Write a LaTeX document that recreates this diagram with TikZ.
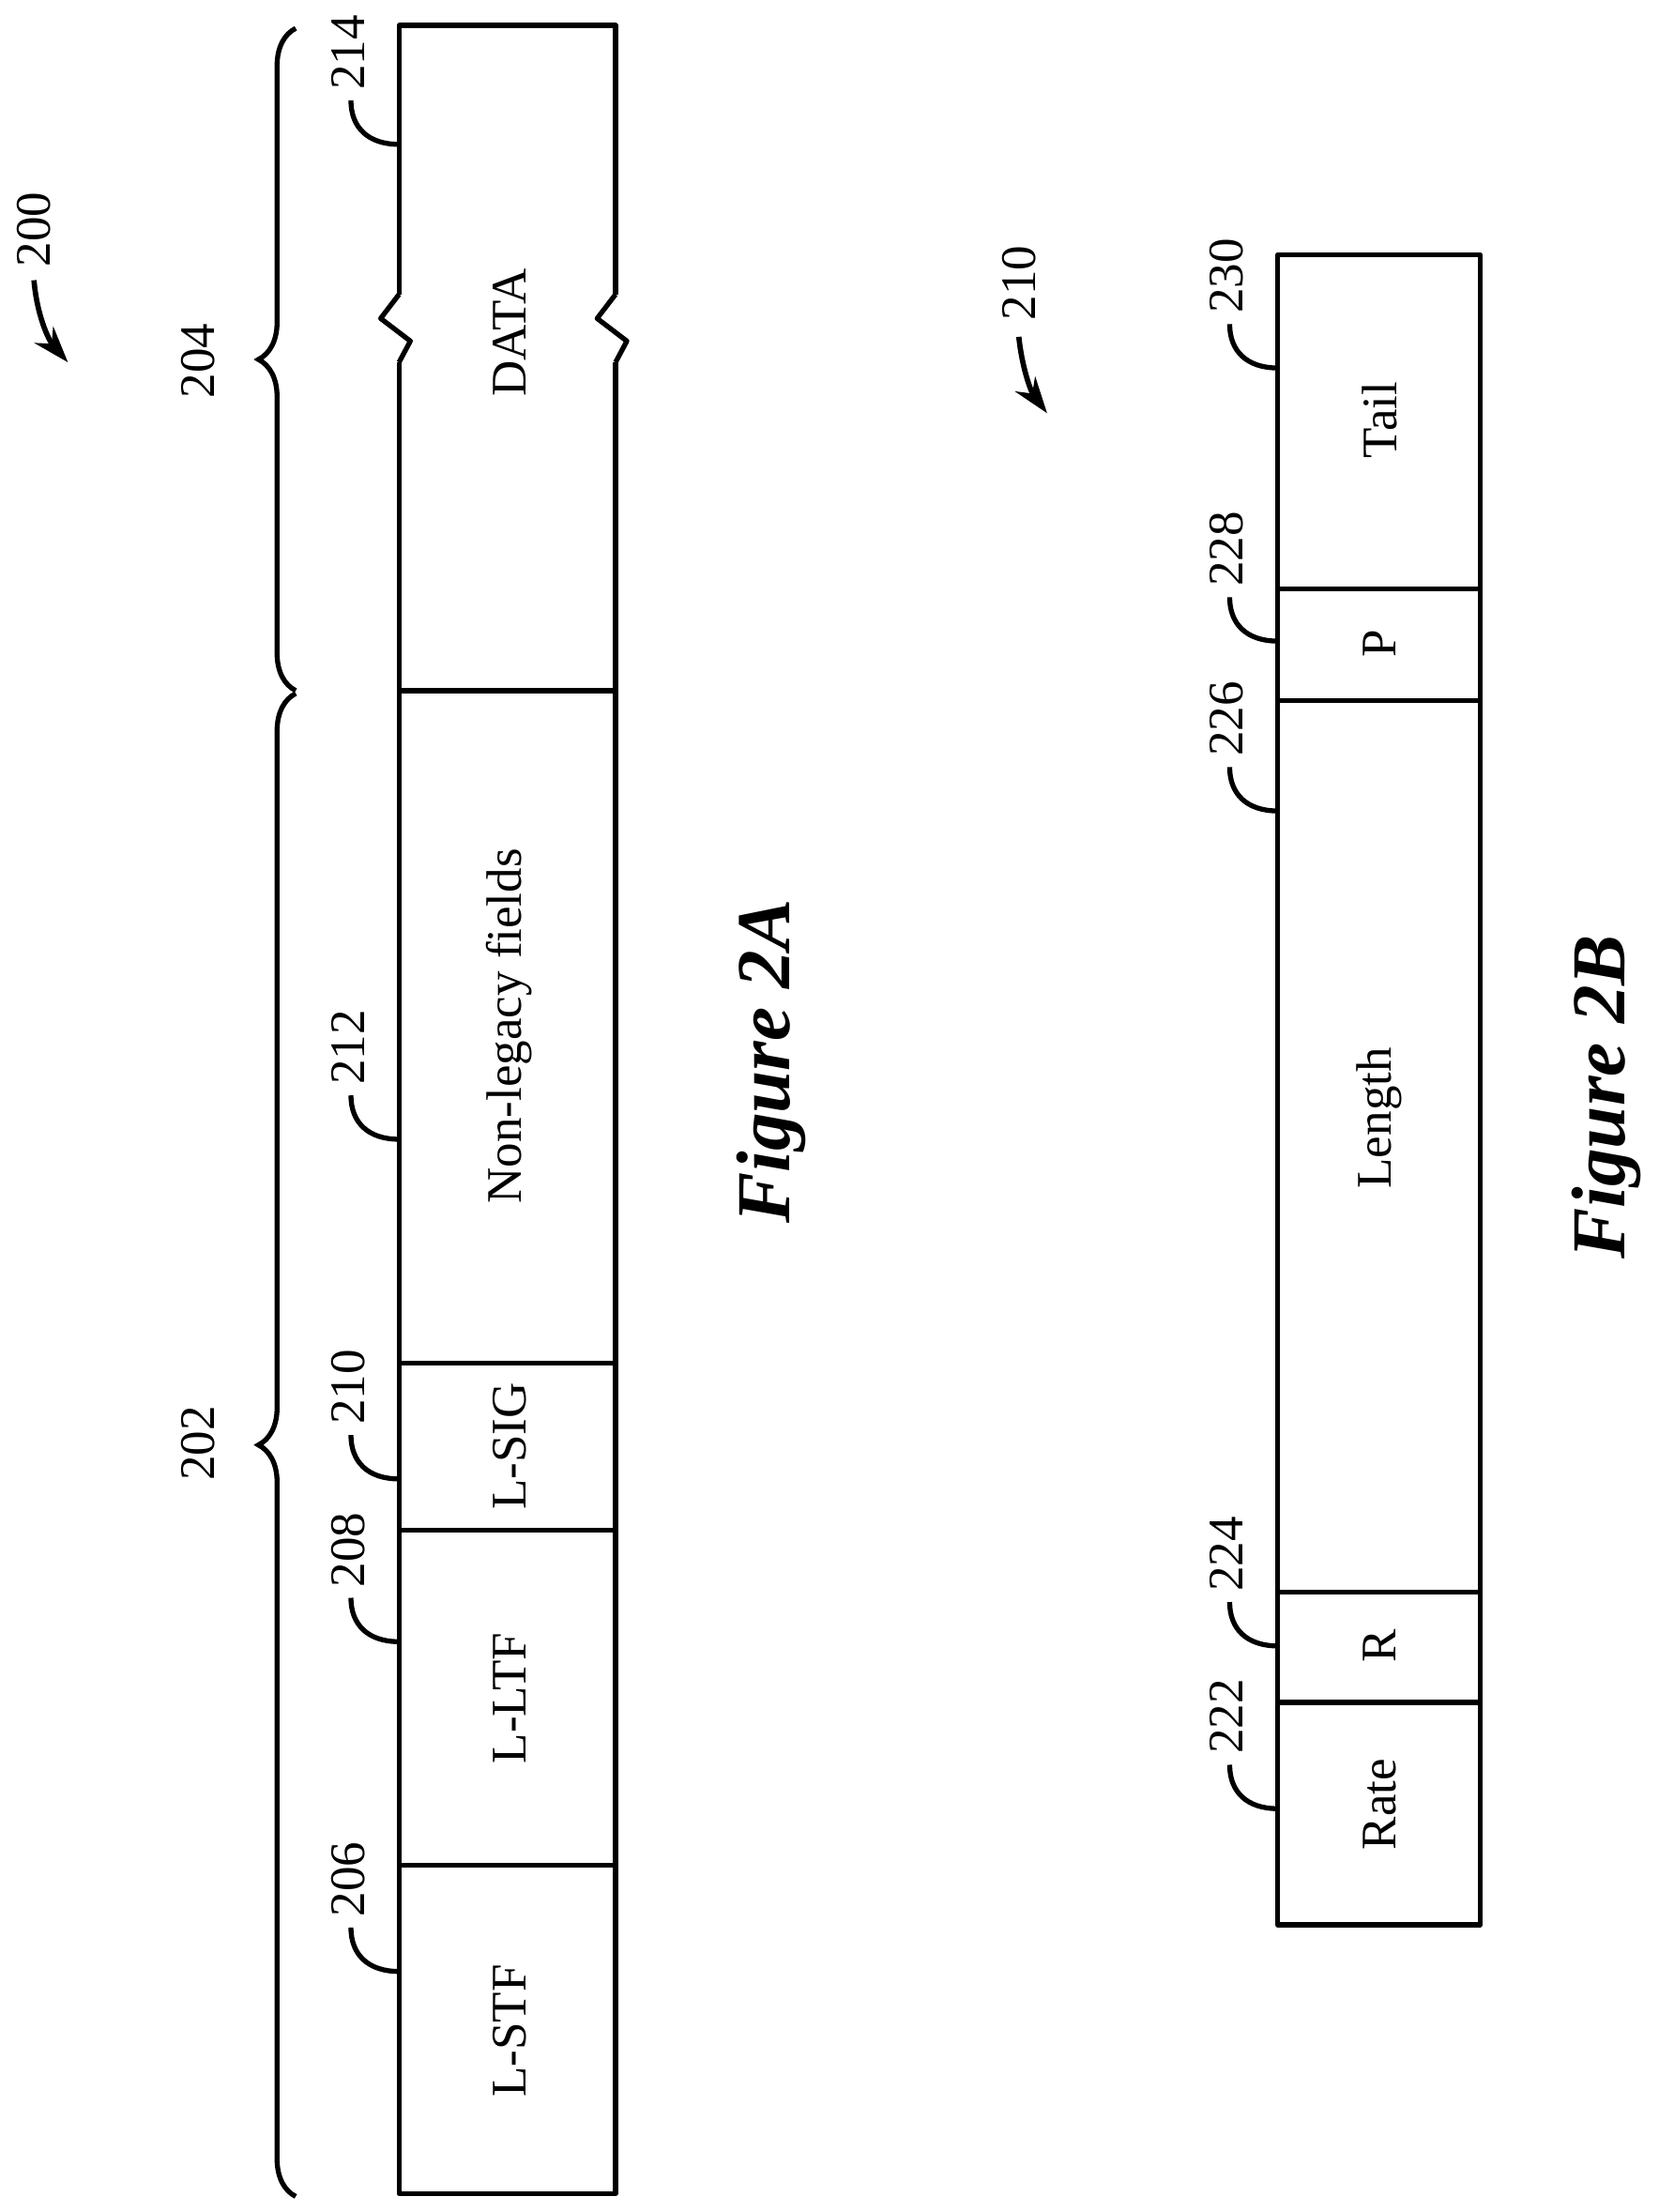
\documentclass[tikz,border=0pt]{standalone}
\usepackage{fontspec}
\setmainfont{Liberation Serif}
\usetikzlibrary{decorations.pathreplacing,arrows.meta}
\tikzset{
  field/.style = {rotate=90, font=\fontsize{30}{34}\selectfont},
  ref/.style = {rotate=90, font=\fontsize{30}{34}\selectfont},
  figcap/.style = {rotate=90, font=\fontsize{46}{52}\selectfont\bfseries\itshape},
  hook/.style = {line width=3pt},
  box/.style = {line width=3pt, line join=round},
  brc/.style = {line width=3pt, decorate, decoration={brace, amplitude=22.5, aspect=0.5}},
  refarrow/.style = {line width=3.2pt, -{Stealth[length=22pt, width=15pt]}}
}
% hook from box edge to label
\newcommand{\refhook}[3]{%
  \draw[hook] (#1,#2) .. controls (#1-22,#2) and (#1-34,#2-12) .. (#1-34,#2-31);
  \node[ref] at (#1-36,#2-65) {#3};
}
\begin{document}
\begin{tikzpicture}[x=0.03cm, y=-0.03cm]
  \useasboundingbox (0,0) rectangle (1172,1563);
  % figure 2A
  \draw[box] (282,256) -- (282,1550) -- (435,1550) -- (435,256);
  \draw[box] (282,208) -- (282,18) -- (435,18) -- (435,208);
  \draw[box] (282,208) -- (269,225) -- (290,241) -- (282,256);
  \draw[box] (435,208) -- (422,225) -- (443,241) -- (435,256);
  \foreach \y in {488,963,1081,1318}
    \draw[box] (282,\y) -- (435,\y);
  \node[field] (data) at (360,235) {DATA};
  \node[field] (nonleg) at (360,725) {Non-legacy fields};
  \node[field] (lsig) at (360,1022) {L-SIG};
  \node[field] (lltf) at (360,1200) {L-LTF};
  \node[field] (lstf) at (360,1435) {L-STF};
  \refhook{282}{102}{214}
  \refhook{282}{805}{212}
  \refhook{282}{1045}{210}
  \refhook{282}{1160}{208}
  \refhook{282}{1393}{206}
  \draw[brc] (209,488) -- (209,20);
  \draw[brc] (209,1552) -- (209,490);
  \node[ref] (l204) at (140,255) {204};
  \node[ref] (l202) at (140,1020) {202};
  \node[ref] (l200) at (24,162) {200};
  \draw[refarrow] (24,198) .. controls (26,222) and (34,240) .. (48,256);
  \node[figcap] (fig2a) at (545,750) {Figure 2A};
  % figure 2B
  \draw[box] (903,180) rectangle (1046,1360);
  \foreach \y in {416,495,1125,1203}
    \draw[box] (903,\y) -- (1046,\y);
  \node[field] (tail) at (975,297) {Tail};
  \node[field] (p) at (975,455) {P};
  \node[field] (len) at (975,790) {Length};
  \node[field] (r) at (975,1163) {R};
  \node[field] (rate) at (975,1275) {Rate};
  \refhook{903}{260}{230}
  \refhook{903}{453}{228}
  \refhook{903}{573}{226}
  \refhook{903}{1163}{224}
  \refhook{903}{1278}{222}
  \node[ref] (l210) at (720,200) {210};
  \draw[refarrow] (720,238) .. controls (722,258) and (728,276) .. (740,292);
  \node[figcap] (fig2b) at (1135,775) {Figure 2B};
\end{tikzpicture}
\end{document}
